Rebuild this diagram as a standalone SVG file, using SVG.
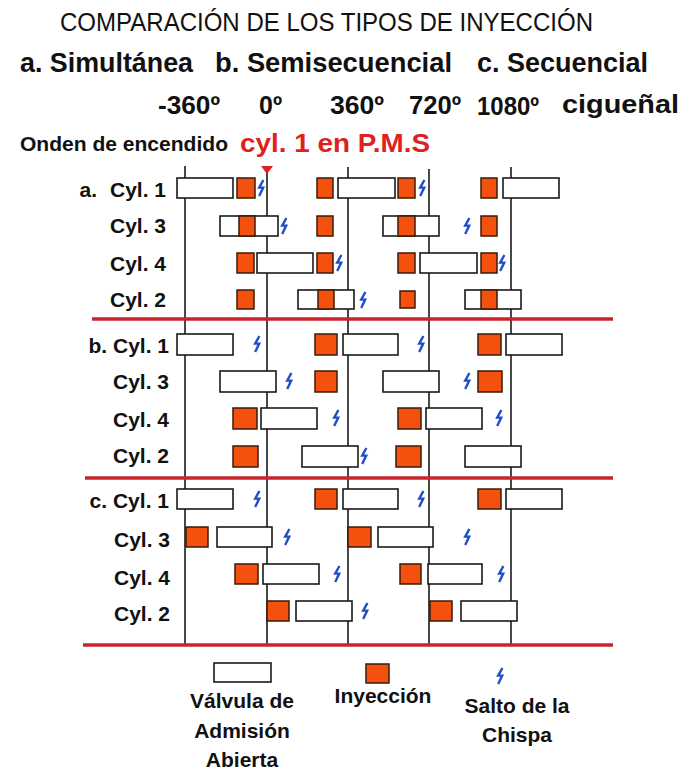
<svg xmlns="http://www.w3.org/2000/svg" width="689" height="771" viewBox="0 0 689 771">
<defs>
<style>
.t{font-family:"Liberation Sans",Arial,sans-serif;fill:#111}
.b{font-weight:bold}
.lbl{font-family:"Liberation Sans",Arial,sans-serif;font-weight:bold;font-size:21px;fill:#111;text-anchor:end}
.leg{font-family:"Liberation Sans",Arial,sans-serif;font-weight:bold;font-size:21px;fill:#111;text-anchor:middle}
.w{fill:#fff;stroke:#1a1a1a;stroke-width:1.6}
.o{fill:#f4500e;stroke:#3a1a08;stroke-width:1.5}
.s{fill:none;stroke:#1f4fc4;stroke-width:2.4;stroke-linejoin:miter}
.v{stroke:#1a1a1a;stroke-width:1.6}
.r{stroke:#c9232b;stroke-width:3.5}
</style>
<path id="sp" class="s" d="M2.4,-8 L-1.8,-0.4 L2.2,-0.4 L-1.8,8"/>
</defs>
<rect width="689" height="771" fill="#fff"/>

<g id="header">
<text class="t" x="60" y="31" font-size="25" textLength="533" lengthAdjust="spacingAndGlyphs">COMPARACIÓN DE LOS TIPOS DE INYECCIÓN</text>
<text class="t b" x="20" y="72" font-size="27" textLength="173" lengthAdjust="spacingAndGlyphs">a. Simultánea</text>
<text class="t b" x="215" y="72" font-size="27" textLength="237" lengthAdjust="spacingAndGlyphs">b. Semisecuencial</text>
<text class="t b" x="477" y="72" font-size="27" textLength="171" lengthAdjust="spacingAndGlyphs">c. Secuencial</text>
<text class="t b" x="158" y="114" font-size="25" textLength="62" lengthAdjust="spacingAndGlyphs">-360º</text>
<text class="t b" x="259" y="114" font-size="25" textLength="23" lengthAdjust="spacingAndGlyphs">0º</text>
<text class="t b" x="330" y="114" font-size="25" textLength="54" lengthAdjust="spacingAndGlyphs">360º</text>
<text class="t b" x="409" y="114" font-size="25" textLength="52" lengthAdjust="spacingAndGlyphs">720º</text>
<text class="t b" x="477" y="115" font-size="25" textLength="62" lengthAdjust="spacingAndGlyphs">1080º</text>
<text class="t b" x="562" y="113" font-size="25" textLength="117" lengthAdjust="spacingAndGlyphs">cigueñal</text>
<text class="t b" x="20" y="151" font-size="20" textLength="208" lengthAdjust="spacingAndGlyphs">Onden de encendido</text>
<text class="t b" x="240" y="152" font-size="26" style="fill:#e01f1f" textLength="190" lengthAdjust="spacingAndGlyphs">cyl. 1 en P.M.S</text>
</g>

<g id="connectors">
<line class="v" x1="185" y1="166" x2="185" y2="645"/>
<line class="v" x1="267" y1="172" x2="267" y2="645"/>
<line class="v" x1="348" y1="167" x2="348" y2="645"/>
<line class="v" x1="429" y1="169" x2="429" y2="645"/>
<line class="v" x1="511" y1="167" x2="511" y2="645"/>
<line class="r" x1="92" y1="319" x2="613" y2="319"/>
<line class="r" x1="85" y1="478" x2="613" y2="478"/>
<line class="r" x1="83" y1="645" x2="613" y2="645"/>
<polygon points="261,166 273,166 267,174" fill="#e01f1f"/>
</g>

<!-- Section a -->
<g id="a-cyl1">
<text class="lbl" x="97" y="197">a.</text>
<text class="lbl" x="166" y="197">Cyl. 1</text>
<rect class="w" x="177" y="178" width="56" height="20"/>
<rect class="o" x="237" y="178" width="18" height="20"/>
<use href="#sp" x="261" y="188"/>
<rect class="o" x="317" y="178" width="16" height="20"/>
<rect class="w" x="338" y="178" width="57" height="20"/>
<rect class="o" x="398" y="178" width="17" height="20"/>
<use href="#sp" x="422" y="188"/>
<rect class="o" x="481" y="178" width="16" height="20"/>
<rect class="w" x="503" y="178" width="56" height="20"/>
</g>
<g id="a-cyl3">
<text class="lbl" x="166" y="233">Cyl. 3</text>
<rect class="w" x="220" y="216" width="58" height="20"/>
<rect class="o" x="239" y="216" width="16" height="20"/>
<use href="#sp" x="284" y="226"/>
<rect class="o" x="317" y="216" width="16" height="20"/>
<rect class="w" x="383" y="216" width="56" height="20"/>
<rect class="o" x="398" y="216" width="17" height="20"/>
<use href="#sp" x="467" y="226"/>
<rect class="o" x="481" y="216" width="16" height="20"/>
</g>
<g id="a-cyl4">
<text class="lbl" x="166" y="271">Cyl. 4</text>
<rect class="o" x="237" y="253" width="17" height="20"/>
<rect class="w" x="257" y="253" width="56" height="20"/>
<rect class="o" x="317" y="253" width="16" height="20"/>
<use href="#sp" x="339" y="263"/>
<rect class="o" x="398" y="253" width="17" height="20"/>
<rect class="w" x="420" y="253" width="57" height="20"/>
<rect class="o" x="481" y="253" width="16" height="20"/>
<use href="#sp" x="502" y="263"/>
</g>
<g id="a-cyl2">
<text class="lbl" x="166" y="307">Cyl. 2</text>
<rect class="o" x="237" y="290" width="17" height="19"/>
<rect class="w" x="298" y="290" width="56" height="19"/>
<rect class="o" x="318" y="290" width="16" height="19"/>
<use href="#sp" x="363" y="300"/>
<rect class="o" x="400" y="291" width="15" height="17"/>
<rect class="w" x="465" y="290" width="56" height="19"/>
<rect class="o" x="481" y="290" width="16" height="19"/>
</g>

<!-- Section b -->
<g id="b-cyl1">
<text class="lbl" x="169" y="353">b. Cyl. 1</text>
<rect class="w" x="177" y="334" width="56" height="21"/>
<use href="#sp" x="257" y="344"/>
<rect class="o" x="315" y="334" width="22" height="21"/>
<rect class="w" x="343" y="334" width="55" height="21"/>
<use href="#sp" x="421" y="344"/>
<rect class="o" x="478" y="334" width="23" height="21"/>
<rect class="w" x="506" y="334" width="56" height="21"/>
</g>
<g id="b-cyl3">
<text class="lbl" x="169" y="389">Cyl. 3</text>
<rect class="w" x="220" y="371" width="56" height="21"/>
<use href="#sp" x="289" y="381"/>
<rect class="o" x="315" y="371" width="22" height="21"/>
<rect class="w" x="383" y="371" width="56" height="21"/>
<use href="#sp" x="467" y="381"/>
<rect class="o" x="478" y="371" width="24" height="21"/>
</g>
<g id="b-cyl4">
<text class="lbl" x="169" y="427">Cyl. 4</text>
<rect class="o" x="233" y="408" width="24" height="21"/>
<rect class="w" x="261" y="408" width="56" height="21"/>
<use href="#sp" x="336" y="418"/>
<rect class="o" x="398" y="408" width="23" height="21"/>
<rect class="w" x="426" y="408" width="56" height="21"/>
<use href="#sp" x="499" y="418"/>
</g>
<g id="b-cyl2">
<text class="lbl" x="169" y="463">Cyl. 2</text>
<rect class="o" x="233" y="446" width="25" height="21"/>
<rect class="w" x="302" y="446" width="56" height="21"/>
<use href="#sp" x="364" y="456"/>
<rect class="o" x="396" y="446" width="25" height="21"/>
<rect class="w" x="465" y="446" width="56" height="21"/>
</g>

<!-- Section c -->
<g id="c-cyl1">
<text class="lbl" x="169" y="508">c. Cyl. 1</text>
<rect class="w" x="177" y="489" width="56" height="20"/>
<use href="#sp" x="257" y="499"/>
<rect class="o" x="315" y="489" width="22" height="20"/>
<rect class="w" x="343" y="489" width="55" height="20"/>
<use href="#sp" x="421" y="499"/>
<rect class="o" x="478" y="489" width="23" height="20"/>
<rect class="w" x="506" y="489" width="56" height="20"/>
</g>
<g id="c-cyl3">
<text class="lbl" x="170" y="547">Cyl. 3</text>
<rect class="o" x="186" y="527" width="22" height="20"/>
<rect class="w" x="217" y="527" width="55" height="20"/>
<use href="#sp" x="287" y="537"/>
<rect class="o" x="348" y="527" width="23" height="20"/>
<rect class="w" x="378" y="527" width="55" height="20"/>
<use href="#sp" x="467" y="537"/>
</g>
<g id="c-cyl4">
<text class="lbl" x="170" y="585">Cyl. 4</text>
<rect class="o" x="235" y="564" width="23" height="20"/>
<rect class="w" x="263" y="564" width="56" height="20"/>
<use href="#sp" x="337" y="574"/>
<rect class="o" x="400" y="564" width="21" height="20"/>
<rect class="w" x="428" y="564" width="54" height="20"/>
<use href="#sp" x="501" y="574"/>
</g>
<g id="c-cyl2">
<text class="lbl" x="170" y="621">Cyl. 2</text>
<rect class="o" x="267" y="601" width="22" height="20"/>
<rect class="w" x="296" y="601" width="56" height="20"/>
<use href="#sp" x="365" y="611"/>
<rect class="o" x="430" y="601" width="22" height="20"/>
<rect class="w" x="461" y="601" width="56" height="20"/>
</g>

<!-- Legend -->
<g id="legend-valve">
<rect class="w" x="214" y="663" width="57" height="19"/>
<text class="leg" x="242" y="708">Válvula de</text>
<text class="leg" x="242" y="738">Admisión</text>
<text class="leg" x="242" y="767">Abierta</text>
</g>
<g id="legend-injection">
<rect class="o" x="366" y="664" width="23" height="19"/>
<text class="leg" x="383" y="703">Inyección</text>
</g>
<g id="legend-spark">
<use href="#sp" x="500" y="676"/>
<text class="leg" x="517" y="713">Salto de la</text>
<text class="leg" x="517" y="742">Chispa</text>
</g>
</svg>
